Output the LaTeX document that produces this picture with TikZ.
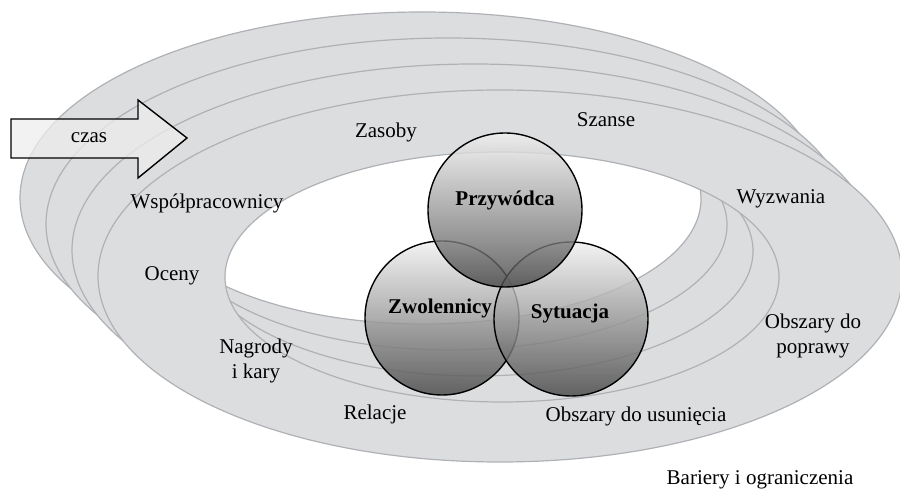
\documentclass[tikz,border=0pt]{standalone}
\usepackage{fontspec}
\setmainfont{Liberation Serif}
\usetikzlibrary{positioning}
\definecolor{ringgray}{RGB}{220,221,223}
\definecolor{ringline}{RGB}{176,177,180}

\begin{document}
\begin{tikzpicture}[
  x=0.5pt, y=-0.5pt,
  font=\fontsize{10.5pt}{12.5pt}\selectfont,
  ring/.style={fill=ringgray, draw=ringline, line width=0.6pt, even odd rule},
  bubble/.style={circle, draw=black, line width=0.7pt, inner sep=0pt,
    minimum size=77pt, fill opacity=0.82,
    top color=black!6, middle color=black!32, bottom color=black!72},
  bubbletext/.style={font=\fontsize{10.5pt}{12.5pt}\selectfont\bfseries},
  lbl/.style={align=center, inner sep=1pt}]
  \useasboundingbox (0,0) rectangle (900,491);

  % rings, back to front
  \foreach \s in {78,52,26,0} {
    \path[ring, shift={(-\s,-\s)}]
      (500,276) ellipse [x radius=402, y radius=186]
      (502,277) ellipse [x radius=277, y radius=125];
  }

  % time arrow
  \draw[fill=black!7, fill opacity=0.75, line width=0.7pt, line join=miter]
    (11,119) -- (138,119) -- (138,100) -- (187,138) -- (138,178)
    -- (138,158) -- (11,158) -- cycle;
  \node [lbl] (czas) at (89,138) {czas};

  % three circles
  \node [bubble] (zwol) at (442,318) {};
  \node [bubble] (syt) at (571,319) {};
  \node [bubble] (lider) at (505,210) {};

  \node [bubbletext] (lidertxt) at (505,200) {Przywódca};
  \node [bubbletext] (zwoltxt) at (440,308) {Zwolennicy};
  \node [bubbletext] (syttxt) at (570,313) {Sytuacja};

  % labels on the rings
  \node [lbl] (zasoby) at (386,132) {Zasoby};
  \node [lbl] (szanse) at (606,120) {Szanse};
  \node [lbl] (wspol) at (207,203) {Współpracownicy};
  \node [lbl] (wyzw) at (781,199) {Wyzwania};
  \node [lbl] (oceny) at (172,276) {Oceny};
  \node [lbl] (nagrody) at (256,361) {Nagrody\\i kary};
  \node [lbl] (relacje) at (375,414) {Relacje};
  \node [lbl] (usun) at (636,416) {Obszary do usunięcia};
  \node [lbl] (popr) at (813,336) {Obszary do\\poprawy};
  \node [lbl] (bariery) at (760,480) {Bariery i ograniczenia};
\end{tikzpicture}
\end{document}
